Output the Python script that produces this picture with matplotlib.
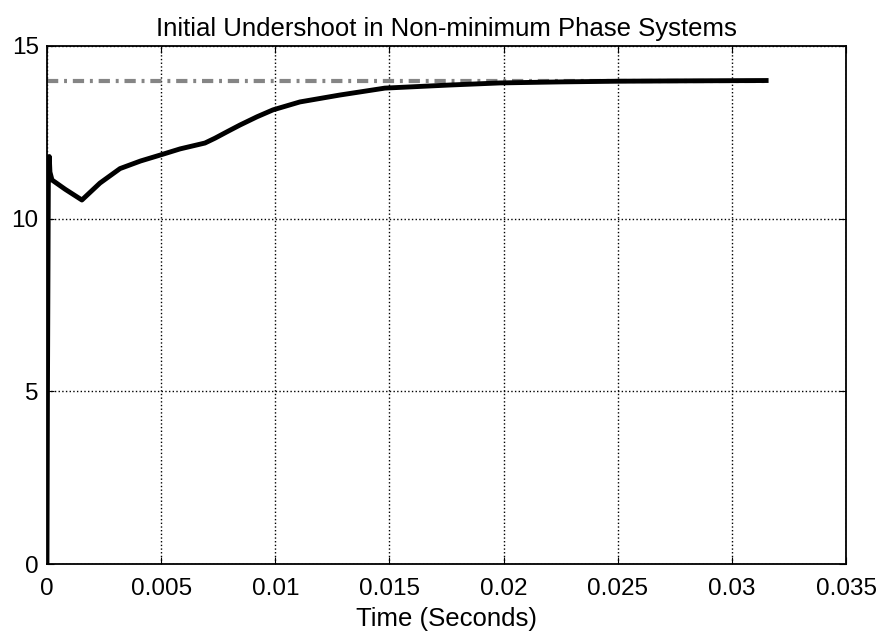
import numpy as np
import matplotlib.pyplot as plt

plt.rcParams['font.family'] = ['Liberation Sans', 'DejaVu Sans']

# step response
t = [0.0, 0.00002, 0.00006, 0.0001, 0.00013, 0.00022, 0.0008, 0.00153,
     0.00232, 0.0032, 0.0041, 0.00495, 0.00583, 0.00692, 0.00736, 0.0079,
     0.00845, 0.0092, 0.0099, 0.01108, 0.01283, 0.0148, 0.01765, 0.01984,
     0.0225, 0.025, 0.028, 0.0315]
y = [0.0, 4.8, 11.0, 11.8, 11.35, 11.12, 10.85, 10.54,
     11.03, 11.45, 11.67, 11.84, 12.02, 12.19, 12.33, 12.52,
     12.71, 12.95, 13.15, 13.38, 13.58, 13.78, 13.87, 13.93,
     13.96, 13.98, 13.99, 14.0]

ref_t = [0.0, 0.0315]
ref_y = [14.0, 14.0]

fig = plt.figure(figsize=(8.78, 6.36), dpi=100)
ax = fig.add_axes([0.0535, 0.1132, 0.9101, 0.8145])

ax.plot(ref_t, ref_y, '-.', color='#858585', lw=3, dashes=(2.7, 1.4, 0.7, 1.4))
ax.plot(t, y, '-', color='black', lw=3.5, solid_joinstyle='round')

ax.set_xlim(0, 0.035)
ax.set_ylim(0, 15)
ax.set_xticks(np.arange(0, 0.0351, 0.005))
ax.set_xticklabels(['0', '0.005', '0.01', '0.015', '0.02', '0.025', '0.03', '0.035'])
ax.set_yticks([0, 5, 10, 15])
ax.grid(True, color='black', linestyle=':', lw=1)
ax.tick_params(direction='in', top=True, right=True, length=5, labelsize=17.5)
ax.tick_params(axis='x', pad=10)
ax.tick_params(axis='y', pad=6)
for s in ax.spines.values():
    s.set_linewidth(1.3)

ax.set_title('Initial Undershoot in Non-minimum Phase Systems', fontsize=18.5, pad=7)
ax.set_xlabel('Time (Seconds)', fontsize=18.5, labelpad=5)

fig.savefig('out.png', dpi=100)
